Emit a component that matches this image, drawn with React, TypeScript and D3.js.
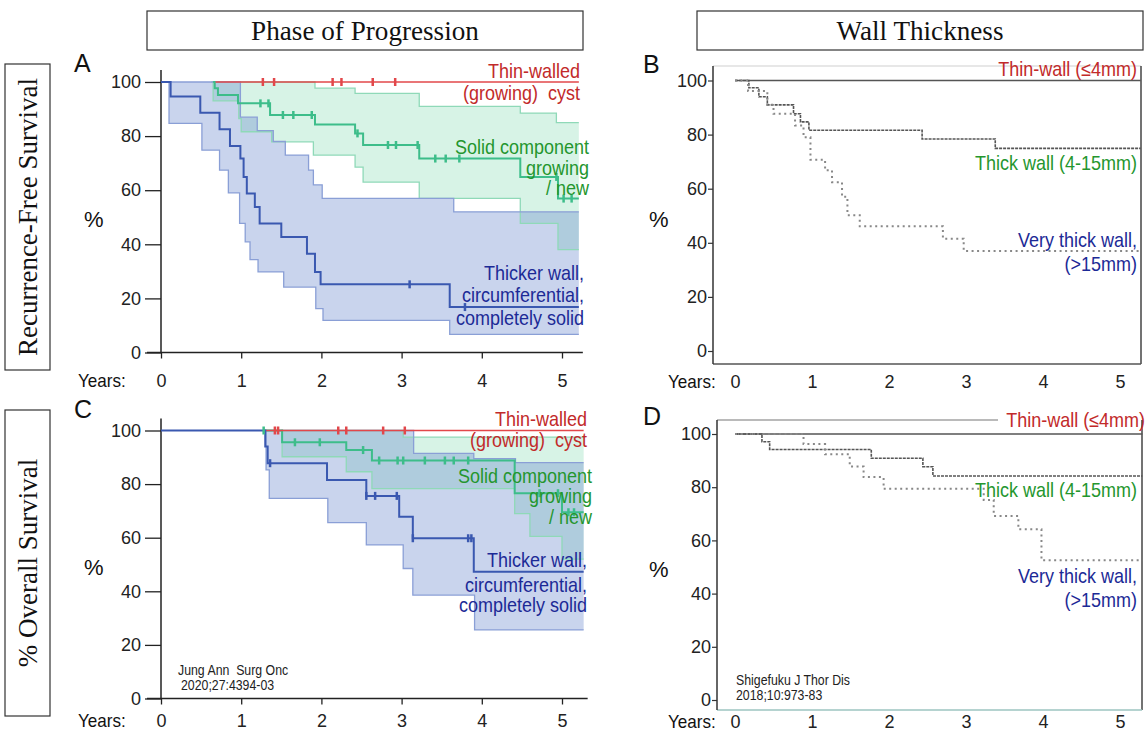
import React, { useRef, useEffect } from 'react';
import * as d3 from 'd3';

type Pt = [number, number];

const yearTicks = [0, 1, 2, 3, 4, 5];
const pctTicks = [0, 20, 40, 60, 80, 100];

// ---- A: recurrence-free survival by phase of progression ----
const aEnd = 5.21;
const aThin: Pt[] = [[0.68, 100]];
const aThinCens = [1.27, 1.41, 2.14, 2.25, 2.64, 2.92];
const aSolid: Pt[] = [[0.65, 100], [0.67, 97.7], [0.71, 95.2], [0.96, 92.1], [1.36, 87.8], [1.92, 84.3], [2.42, 81], [2.52, 76.7], [3.22, 71.7], [4.48, 64.9], [4.95, 56.9]];
const aSolidCens = [1.24, 1.34, 1.52, 1.65, 1.88, 2.45, 2.83, 2.93, 3.2, 3.42, 3.55, 3.72, 4.93, 5.02, 5.12];
const aSolidUp: Pt[] = [[0.63, 100], [1.92, 97.7], [2.42, 95.8], [3.22, 91], [4.48, 88.5], [4.93, 85]];
const aSolidLo: Pt[] = [[0.63, 100], [0.65, 93], [0.97, 86.5], [1.0, 81.6], [1.38, 77.9], [1.9, 73], [2.42, 68.5], [2.52, 63], [3.22, 57], [4.48, 47.7], [4.95, 38]];
const aThick: Pt[] = [[0, 100], [0.12, 94.6], [0.49, 88.6], [0.73, 82.5], [0.86, 76.3], [0.99, 71.7], [1.03, 64.9], [1.07, 58.8], [1.17, 53.8], [1.23, 47.7], [1.5, 42.7], [1.82, 36.5], [1.92, 29.8], [1.99, 25.2], [3.6, 16.8]];
const aThickCens = [3.1, 3.79];
const aThickUp: Pt[] = [[0, 100], [0.99, 87], [1.2, 82], [1.4, 78], [1.55, 73], [1.84, 67.4], [1.9, 62], [2.01, 57], [3.65, 52]];
const aThickLo: Pt[] = [[0, 100], [0.1, 84.7], [0.51, 74.8], [0.73, 67.4], [0.84, 59], [0.98, 47.7], [1.05, 40.9], [1.11, 34.3], [1.21, 29.8], [1.53, 24.2], [1.93, 16.2], [2.02, 11.9], [3.6, 6.7]];

// ---- C: overall survival by phase of progression ----
const cEnd = 5.27;
const cThin: Pt[] = [[1.3, 100]];
const cThinCens = [1.42, 1.46, 2.21, 2.31, 2.77, 3.04];
const cSolid: Pt[] = [[1.28, 100], [1.51, 95.6], [2.31, 92.7], [2.63, 88.8], [4.41, 76.6], [5.0, 69.5]];
const cSolidCens = [1.28, 1.67, 1.98, 2.52, 2.72, 2.95, 3.02, 3.29, 3.54, 3.65, 3.83, 4.72, 4.95, 5.08, 5.15];
const cSolidUp: Pt[] = [[1.5, 100], [3.02, 97.5]];
const cSolidLo: Pt[] = [[1.5, 100], [1.51, 90.2], [2.31, 84.6], [2.63, 78.3], [4.41, 69], [4.6, 60.5], [5.0, 52]];
const cThick: Pt[] = [[0, 100], [1.3, 94], [1.33, 87.8], [2.07, 81.5], [2.56, 75.6], [2.97, 67.8], [3.14, 59.8], [3.9, 47.3]];
const cThickCens = [1.36, 2.56, 2.67, 2.94, 3.14, 3.83, 3.87];
const cThickUp: Pt[] = [[1.3, 100], [3.15, 91.5], [3.9, 89.5], [4.42, 88]];
const cThickLo: Pt[] = [[1.3, 100], [1.31, 85.3], [1.35, 74.7], [2.08, 65.6], [2.56, 57.3], [3.02, 48.5], [3.14, 38.6], [3.91, 25.6]];

// ---- B: recurrence-free survival by wall thickness ----
const bEnd = 5.27;
const bThinWall: Pt[] = [[0, 100]];
const bThickWall: Pt[] = [[0, 100], [0.18, 97.3], [0.31, 94], [0.42, 91], [0.76, 87.7], [0.85, 84.7], [0.96, 81.6], [2.43, 78.4], [3.38, 74.9]];
const bVeryThick: Pt[] = [[0, 100], [0.17, 96.1], [0.42, 91], [0.5, 87.7], [0.78, 83.4], [0.89, 79], [0.98, 70.7], [1.17, 66.8], [1.26, 62.4], [1.39, 57], [1.46, 50.2], [1.62, 46.1], [2.7, 41.5], [2.97, 37]];

// ---- D: overall survival by wall thickness ----
const dEnd = 5.29;
const dThinWall: Pt[] = [[0, 100]];
const dThickWall: Pt[] = [[0, 100], [0.35, 97.1], [0.45, 94.2], [1.77, 90.9], [2.44, 87.7], [2.57, 84.2]];
const dVeryThick: Pt[] = [[0, 100], [0.89, 96.2], [1.17, 92.4], [1.49, 87.8], [1.67, 83.8], [1.93, 79.4], [3.23, 75.2], [3.36, 69.2], [3.68, 64.2], [3.98, 52.5]];

const RED = '#e2474a', GREEN = '#3dbd8a', BLUE = '#3a58b0';
const RED_TXT = '#c22a2a', GREEN_TXT = '#24962e', BLUE_TXT = '#1c2a96';
const SANS = 'Liberation Sans, Arial, sans-serif';
const SERIF = 'Liberation Serif, Times New Roman, serif';

const valueAt = (pts: Pt[], t: number) => {
  let v = pts[0][1];
  for (const [tt, vv] of pts) if (tt <= t) v = vv;
  return v;
};

const App = () => {
  const svgRef = useRef<SVGSVGElement>(null);

  useEffect(() => {
    const svg = d3.select(svgRef.current);
    svg.selectAll('*').remove();

    const txt = (g: any, s: string, x: number, y: number, color: string, size: number, anchor = 'end', sx = 0.86, family = SANS) =>
      g.append('text')
        .attr('transform', `translate(${x},${y}) scale(${sx},1)`)
        .attr('text-anchor', anchor)
        .attr('fill', color)
        .attr('font-size', size)
        .attr('font-family', family)
        .style('white-space', 'pre')
        .text(s);

    // header boxes
    const headers = [
      { label: 'Phase of Progression', x: 147, w: 436 },
      { label: 'Wall Thickness', x: 697, w: 446 },
    ];
    headers.forEach(h => {
      svg.append('rect').attr('x', h.x).attr('y', 11).attr('width', h.w).attr('height', 39)
        .attr('fill', 'none').attr('stroke', '#333').attr('stroke-width', 1.2);
      txt(svg, h.label, h.x + h.w / 2, 40, '#111', 28, 'middle', 0.97, SERIF);
    });
    const rows = [
      { label: 'Recurrence-Free Survival', y: 64, h: 306 },
      { label: '% Overall Survival', y: 410, h: 306 },
    ];
    rows.forEach(r => {
      svg.append('rect').attr('x', 5).attr('y', r.y).attr('width', 45).attr('height', r.h)
        .attr('fill', 'none').attr('stroke', '#333').attr('stroke-width', 1.2);
      svg.append('text')
        .attr('transform', `translate(37,${r.y + r.h / 2}) rotate(-90)`)
        .attr('text-anchor', 'middle').attr('font-size', 27).attr('font-family', SERIF).attr('fill', '#111')
        .text(r.label);
    });

    // ---------- shaded KM panels (A, C) ----------
    const drawBanded = (p: any) => {
      const g = svg.append('g');
      const x = d3.scaleLinear().domain([0, 5]).range([161, 562]);
      const y = d3.scaleLinear().domain([0, 100]).range(p.yr);
      const step = d3.line<Pt>().curve(d3.curveStepAfter).x(d => x(d[0])).y(d => y(d[1]));
      const withEnd = (pts: Pt[]): Pt[] => [...pts, [p.end, pts[pts.length - 1][1]]];
      const band = (up: Pt[], lo: Pt[]) => {
        const ts = Array.from(new Set([...up.map(d => d[0]), ...lo.map(d => d[0]), p.end])).sort((a, b) => a - b);
        return d3.area<number>().curve(d3.curveStepAfter)
          .x(t => x(t)).y0(t => y(valueAt(lo, t))).y1(t => y(valueAt(up, t)))(ts);
      };

      g.append('path').attr('d', band(p.solidUp, p.solidLo)).attr('fill', 'rgb(100,210,160)').attr('fill-opacity', 0.26);
      g.append('path').attr('d', band(p.thickUp, p.thickLo)).attr('fill', 'rgb(105,135,205)').attr('fill-opacity', 0.36);
      [p.solidUp, p.solidLo].forEach((b: Pt[]) =>
        g.append('path').attr('d', step(withEnd(b))).attr('fill', 'none').attr('stroke', '#8fd9b8').attr('stroke-width', 1.3));
      [p.thickUp, p.thickLo].forEach((b: Pt[]) =>
        g.append('path').attr('d', step(withEnd(b))).attr('fill', 'none').attr('stroke', '#8a9fd6').attr('stroke-width', 1.3));

      // axes
      const yAxis = g.append('g').attr('transform', 'translate(161,0)')
        .call(d3.axisLeft(y).tickValues(pctTicks).tickFormat(d3.format('d')).tickSizeInner(16).tickSizeOuter(0).tickPadding(4));
      yAxis.select('.domain').remove();
      yAxis.selectAll('line').attr('stroke', '#222').attr('stroke-width', 1.3);
      yAxis.selectAll('text').attr('font-size', 18).attr('font-family', SANS).attr('fill', '#222');
      g.append('line').attr('x1', 161).attr('x2', 161).attr('y1', p.yr[1] - 12).attr('y2', p.yr[0])
        .attr('stroke', '#222').attr('stroke-width', 1.5);

      const xAxis = g.append('g').attr('transform', `translate(0,${p.yr[0]})`)
        .call(d3.axisBottom(x).tickValues(yearTicks).tickFormat(d3.format('d')).tickSizeInner(6).tickSizeOuter(0));
      xAxis.select('.domain').remove();
      xAxis.selectAll('line').attr('stroke', '#222').attr('stroke-width', 1.3);
      xAxis.selectAll('text').attr('y', p.labelY - p.yr[0]).attr('dy', 0).attr('font-size', 18).attr('font-family', SANS).attr('fill', '#222');
      g.append('line').attr('x1', 147).attr('x2', x(p.end) + 4).attr('y1', p.yr[0]).attr('y2', p.yr[0])
        .attr('stroke', '#222').attr('stroke-width', 1.5);

      // survival curves
      g.append('path').attr('d', step(withEnd(p.solid))).attr('fill', 'none').attr('stroke', GREEN).attr('stroke-width', 2);
      g.append('path').attr('d', step(withEnd(p.thin))).attr('fill', 'none').attr('stroke', RED).attr('stroke-width', 1.6);
      g.append('path').attr('d', step(withEnd(p.thick))).attr('fill', 'none').attr('stroke', BLUE).attr('stroke-width', 2);

      const cens = (ts: number[], pts: Pt[], color: string) =>
        g.selectAll(null).data(ts).enter().append('line')
          .attr('x1', d => x(d)).attr('x2', d => x(d))
          .attr('y1', d => y(valueAt(pts, d)) - 4).attr('y2', d => y(valueAt(pts, d)) + 4)
          .attr('stroke', color).attr('stroke-width', 2.5);
      cens(p.thinCens, p.thin, RED);
      cens(p.solidCens, p.solid, GREEN);
      cens(p.thickCens, p.thick, BLUE);

      // labels
      txt(g, p.letter, 74, p.letterY, '#111', 25, 'start', 1);
      txt(g, '%', 84, p.pctY, '#111', 22, 'start', 1);
      txt(g, 'Years:', 78, p.labelY, '#111', 18, 'start', 0.95);
      p.legend.forEach((l: any) => txt(g, l[0], l[1], l[2], l[3], 20, 'end', 0.9));
      if (p.cite) p.cite.forEach((c: any) => txt(g, c[0], c[1], c[2], '#222', 14, 'start', 0.88));
    };

    drawBanded({
      yr: [352.5, 82], end: aEnd, labelY: 387, letter: 'A', letterY: 72, pctY: 227,
      thin: aThin, thinCens: aThinCens, solid: aSolid, solidCens: aSolidCens, solidUp: aSolidUp, solidLo: aSolidLo,
      thick: aThick, thickCens: aThickCens, thickUp: aThickUp, thickLo: aThickLo,
      legend: [
        ['Thin-walled', 580, 78, RED_TXT], ['(growing)  cyst', 580, 100, RED_TXT],
        ['Solid component', 589, 154, GREEN_TXT], ['growing', 589, 175, GREEN_TXT], ['/ new', 589, 195, GREEN_TXT],
        ['Thicker wall,', 584, 280, BLUE_TXT], ['circumferential,', 584, 302, BLUE_TXT], ['completely solid', 584, 325, BLUE_TXT],
      ],
    });
    drawBanded({
      yr: [698.5, 430.5], end: cEnd, labelY: 727, letter: 'C', letterY: 418, pctY: 575,
      thin: cThin, thinCens: cThinCens, solid: cSolid, solidCens: cSolidCens, solidUp: cSolidUp, solidLo: cSolidLo,
      thick: cThick, thickCens: cThickCens, thickUp: cThickUp, thickLo: cThickLo,
      legend: [
        ['Thin-walled', 587, 426, RED_TXT], ['(growing)  cyst', 587, 447, RED_TXT],
        ['Solid component', 592, 483, GREEN_TXT], ['growing', 592, 503, GREEN_TXT], ['/ new', 592, 524, GREEN_TXT],
        ['Thicker wall,', 587, 567, BLUE_TXT], ['circumferential,', 587, 592, BLUE_TXT], ['completely solid', 587, 612, BLUE_TXT],
      ],
      cite: [['Jung Ann  Surg Onc', 178, 675], ['2020;27:4394-03', 181, 690]],
    });

    // ---------- grey KM panels (B, D) ----------
    const drawGrey = (p: any) => {
      const g = svg.append('g');
      const x = d3.scaleLinear().domain([0, 5]).range([735, 1120]);
      const y = d3.scaleLinear().domain([0, 100]).range(p.yr);
      const step = d3.line<Pt>().curve(d3.curveStepAfter).x(d => x(d[0])).y(d => y(d[1]));
      const withEnd = (pts: Pt[]): Pt[] => [...pts, [p.end, pts[pts.length - 1][1]]];
      const [left, top, right, bottom] = p.box;

      g.append('line').attr('x1', left).attr('x2', p.topEnd).attr('y1', top).attr('y2', top).attr('stroke', p.topColor).attr('stroke-width', 1.2);
      g.append('line').attr('x1', right).attr('x2', right).attr('y1', top).attr('y2', bottom).attr('stroke', '#444').attr('stroke-width', 1.5);
      g.append('line').attr('x1', left).attr('x2', right).attr('y1', bottom).attr('y2', bottom).attr('stroke', p.bottomColor).attr('stroke-width', 1.5);
      g.append('line').attr('x1', left).attr('x2', left).attr('y1', top).attr('y2', bottom).attr('stroke', '#333').attr('stroke-width', 1.5);

      const yAxis = g.append('g').attr('transform', `translate(${left},0)`)
        .call(d3.axisLeft(y).tickValues(pctTicks).tickFormat(d3.format('d')).tickSizeInner(5).tickSizeOuter(0).tickPadding(1));
      yAxis.select('.domain').remove();
      yAxis.selectAll('line').attr('stroke', '#333').attr('stroke-width', 1.2);
      yAxis.selectAll('text').attr('font-size', 18).attr('font-family', SANS).attr('fill', '#222');

      const xAxis = g.append('g').attr('transform', `translate(0,${p.yr[0]})`)
        .call(d3.axisBottom(x).tickValues(yearTicks).tickFormat(d3.format('d')).tickSize(0));
      xAxis.select('.domain').remove();
      xAxis.selectAll('text').attr('y', p.labelY - p.yr[0]).attr('dy', 0).attr('font-size', 18).attr('font-family', SANS).attr('fill', '#222');

      g.append('path').attr('d', step(withEnd(p.thin))).attr('fill', 'none').attr('stroke', '#555').attr('stroke-width', 1.6);
      g.append('path').attr('d', step(withEnd(p.thick))).attr('fill', 'none').attr('stroke', '#555')
        .attr('stroke-width', 1.6).attr('stroke-dasharray', '3,1');
      g.append('path').attr('d', step(withEnd(p.very))).attr('fill', 'none').attr('stroke', '#888')
        .attr('stroke-width', 2).attr('stroke-dasharray', '2,3.5');

      txt(g, p.letter, 643, p.letterY, '#111', 25, 'start', 1);
      txt(g, '%', 649, p.pctY, '#111', 22, 'start', 1);
      txt(g, 'Years:', 668, p.labelY, '#111', 18, 'start', 0.95);
      p.legend.forEach((l: any) => txt(g, l[0], l[1], l[2], l[3], 20, 'end', 0.9));
      if (p.cite) p.cite.forEach((c: any) => txt(g, c[0], c[1], c[2], '#222', 14, 'start', 0.88));
    };

    drawGrey({
      yr: [351, 80.5], end: bEnd, box: [713, 66, 1141, 364], topEnd: 1141, topColor: '#cfcfcf', bottomColor: '#555',
      labelY: 388, letter: 'B', letterY: 73, pctY: 227,
      thin: bThinWall, thick: bThickWall, very: bVeryThick,
      legend: [
        ['Thin-wall (≤4mm)', 1137, 76, RED_TXT], ['Thick wall (4-15mm)', 1137, 170, GREEN_TXT],
        ['Very thick wall,', 1137, 247, BLUE_TXT], ['(>15mm)', 1137, 271, BLUE_TXT],
      ],
    });
    drawGrey({
      yr: [700, 434], end: dEnd, box: [717, 420, 1142, 710], topEnd: 998, topColor: '#777', bottomColor: '#9cc5c0',
      labelY: 728, letter: 'D', letterY: 425, pctY: 577,
      thin: dThinWall, thick: dThickWall, very: dVeryThick,
      legend: [
        ['Thin-wall (≤4mm)', 1145, 427, RED_TXT], ['Thick wall (4-15mm)', 1137, 497, GREEN_TXT],
        ['Very thick wall,', 1137, 583, BLUE_TXT], ['(>15mm)', 1137, 607, BLUE_TXT],
      ],
      cite: [['Shigefuku J Thor Dis', 736, 685], ['2018;10:973-83', 736, 700]],
    });
  }, []);

  return (
    <svg ref={svgRef} width={1148} height={731}
      style={{ position: 'absolute', left: 0, top: 0, background: '#fff' }} />
  );
};

export default App;
